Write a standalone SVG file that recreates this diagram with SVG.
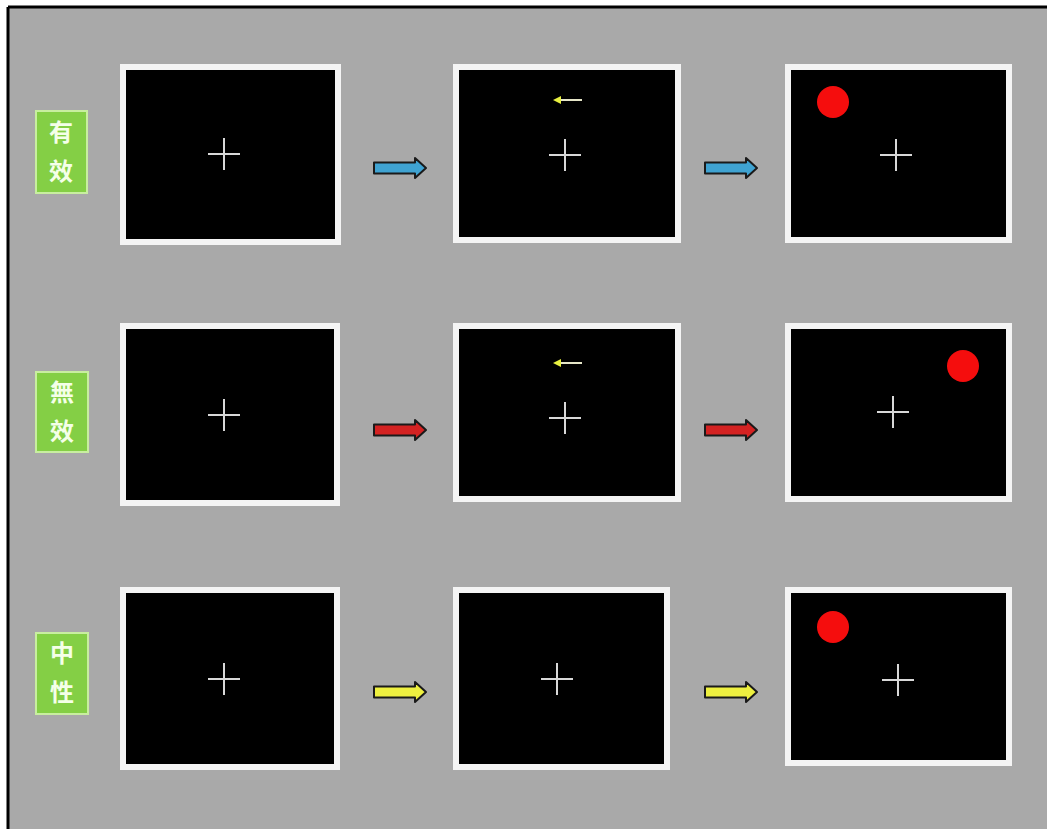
<svg xmlns="http://www.w3.org/2000/svg" width="1047" height="829" viewBox="0 0 1047 829">
<style>
.frame{fill:#000;stroke:#f4f4f4;stroke-width:6}
.cross{stroke:#d8d8d8;stroke-width:2;fill:none}
.dot{fill:#f50d0d}
.lab{fill:#84cf45;stroke:#c8eea0;stroke-width:2}
.lt{font-family:"Noto Sans CJK SC","Noto Sans CJK TC","Noto Sans CJK JP",sans-serif;font-size:24px;font-weight:bold;fill:#f4ffe8;text-anchor:middle}
.arr{stroke:#1a1a1a;stroke-width:2;stroke-linejoin:round}
.cue{stroke:#e6e6c8;stroke-width:2}
</style>
<defs>
<path id="ba" d="M0,-5.5 L41,-5.5 L41,-10 L52,0 L41,10 L41,5.5 L0,5.5 Z"/>
<g id="cr"><line x1="-16" y1="0" x2="16" y2="0"/><line x1="0" y1="-16" x2="0" y2="16"/></g>
</defs>
<rect x="0" y="0" width="1047" height="829" fill="#fff"/>
<rect x="8" y="7" width="1039" height="822" fill="#a9a9a9"/>
<line x1="8" y1="7" x2="1047" y2="7" stroke="#000" stroke-width="3"/>
<line x1="8" y1="7" x2="8" y2="829" stroke="#000" stroke-width="3"/>

<g id="label1"><rect class="lab" x="36" y="111" width="51" height="82"/><text class="lt" x="61" y="141">有</text><text class="lt" x="61" y="180">效</text></g>
<g id="label2"><rect class="lab" x="36" y="372" width="52" height="80"/><text class="lt" x="62" y="401">無</text><text class="lt" x="62" y="440">效</text></g>
<g id="label3"><rect class="lab" x="36" y="633" width="52" height="81"/><text class="lt" x="62" y="662">中</text><text class="lt" x="62" y="701">性</text></g>

<g id="r1a"><rect class="frame" x="123" y="67" width="215" height="175"/><use href="#cr" class="cross" x="224" y="154"/></g>
<g id="r1b"><rect class="frame" x="456" y="67" width="222" height="173"/><use href="#cr" class="cross" x="565" y="155"/>
<line class="cue" x1="559" y1="100" x2="582" y2="100"/><path d="M553,100 L561,96 L561,104 Z" fill="#e8f040"/></g>
<g id="r1c"><rect class="frame" x="788" y="67" width="221" height="173"/><use href="#cr" class="cross" x="896" y="155"/><circle class="dot" cx="833" cy="102" r="16"/></g>

<g id="r2a"><rect class="frame" x="123" y="326" width="214" height="177"/><use href="#cr" class="cross" x="224" y="415"/></g>
<g id="r2b"><rect class="frame" x="456" y="326" width="222" height="173"/><use href="#cr" class="cross" x="565" y="418"/>
<line class="cue" x1="559" y1="363" x2="582" y2="363"/><path d="M553,363 L561,359 L561,367 Z" fill="#e8f040"/></g>
<g id="r2c"><rect class="frame" x="788" y="326" width="221" height="173"/><use href="#cr" class="cross" x="893" y="412"/><circle class="dot" cx="963" cy="366" r="16"/></g>

<g id="r3a"><rect class="frame" x="123" y="590" width="214" height="177"/><use href="#cr" class="cross" x="224" y="679"/></g>
<g id="r3b"><rect class="frame" x="456" y="590" width="211" height="177"/><use href="#cr" class="cross" x="557" y="679"/></g>
<g id="r3c"><rect class="frame" x="788" y="590" width="221" height="173"/><use href="#cr" class="cross" x="898" y="680"/><circle class="dot" cx="833" cy="627" r="16"/></g>

<g id="connectors">
<use href="#ba" class="arr" x="374" y="168" fill="#3fa3d2"/>
<use href="#ba" class="arr" x="705" y="168" fill="#3fa3d2"/>
<use href="#ba" class="arr" x="374" y="430" fill="#d42222"/>
<use href="#ba" class="arr" x="705" y="430" fill="#d42222"/>
<use href="#ba" class="arr" x="374" y="692" fill="#eef040"/>
<use href="#ba" class="arr" x="705" y="692" fill="#eef040"/>
</g>
</svg>
